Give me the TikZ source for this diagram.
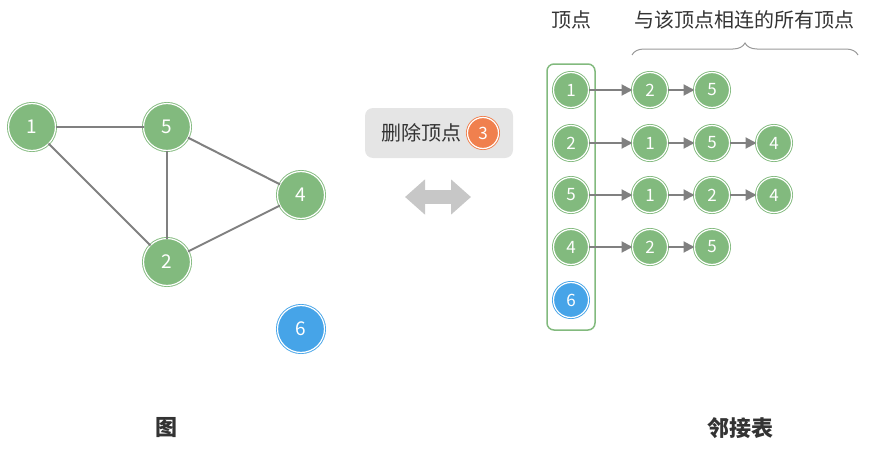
\documentclass[tikz,border=0pt]{standalone}
\usepackage{fontspec}
\setmainfont{Noto Sans CJK SC}
\usepackage{xcolor}
\usepackage{tikz}
\usetikzlibrary{arrows.meta,positioning,decorations.pathreplacing}

\definecolor{vgreen}{RGB}{130,186,126}
\definecolor{vblue}{RGB}{70,164,232}
\definecolor{vorange}{RGB}{240,128,78}
\definecolor{egray}{RGB}{128,128,128}
\definecolor{txtgray}{RGB}{51,51,51}

\begin{document}
\begin{tikzpicture}[x=1pt, y=-1pt,
    gv/.style={circle, draw=vgreen, fill=vgreen, double=white, double distance=1.2pt, line width=0.9pt,
      minimum size=47pt, inner sep=0pt, outer sep=0pt, text=white, font=\fontsize{19}{19}\selectfont},
    sv/.style={gv, minimum size=35pt, font=\fontsize{17}{17}\selectfont},
    blue/.style={draw=vblue, fill=vblue},
    edge/.style={draw=egray, line width=2pt},
    arr/.style={-{Triangle[length=11pt,width=11pt]}, draw=egray, fill=egray, line width=2pt},
    hd/.style={text=txtgray, font=\fontsize{20}{20}\selectfont},
    ttl/.style={text=txtgray, font=\fontsize{22}{22}\selectfont\bfseries}
  ]
    \useasboundingbox (0,0) rectangle (871,450);

    % graph
    \node[gv] (g1) at (32,127) {1};
    \node[gv] (g5) at (167,127) {5};
    \node[gv] (g4) at (301,195) {4};
    \node[gv] (g2) at (167,262) {2};
    \node[gv, blue] (g6) at (301,329) {6};
    \draw[edge] (g1) -- (g5);
    \draw[edge] (g1) -- (g2);
    \draw[edge] (g5) -- (g2);
    \draw[edge] (g5) -- (g4);
    \draw[edge] (g2) -- (g4);
    \node[ttl] (tg) at (166,428) {图};

    % operation
    \node[fill=black!10, rounded corners=8pt, minimum width=148pt, minimum height=50pt] (box) at (439,133) {};
    \node[hd] (del) at (421,133) {删除顶点};
    \node[sv, draw=vorange, fill=vorange, minimum size=31pt] (d3) at (483,133) {3};
    \coordinate (al) at (405,197);
    \coordinate (ar) at (471,197);
    \draw[draw=black!22, line width=14pt, {Triangle[length=20pt,width=34pt]}-{Triangle[length=20pt,width=34pt]}] (al) -- (ar);

    % adjacency list
    \node[hd] (hv) at (571,20) {顶点};
    \node[hd] (hn) at (744,20) {与该顶点相连的所有顶点};
    \coordinate (bl) at (632,55);
    \coordinate (br) at (858,55);
    \draw[decorate, decoration={brace, amplitude=12pt}, draw=black!40, line width=1pt] (bl) -- (br);
    \node[draw=vgreen, line width=1.5pt, rounded corners=7pt, minimum width=48pt, minimum height=266pt] (col) at (571,197) {};

    \node[sv] (h1) at (571,90) {1};
    \node[sv, right=44pt of h1] (a12) {2};
    \node[sv, right=27pt of a12] (a15) {5};
    \draw[arr] (h1) -- (a12);
    \draw[arr] (a12) -- (a15);

    \node[sv] (h2) at (571,143) {2};
    \node[sv, right=44pt of h2] (a21) {1};
    \node[sv, right=27pt of a21] (a25) {5};
    \node[sv, right=27pt of a25] (a24) {4};
    \draw[arr] (h2) -- (a21);
    \draw[arr] (a21) -- (a25);
    \draw[arr] (a25) -- (a24);

    \node[sv] (h5) at (571,195) {5};
    \node[sv, right=44pt of h5] (a51) {1};
    \node[sv, right=27pt of a51] (a52) {2};
    \node[sv, right=27pt of a52] (a54) {4};
    \draw[arr] (h5) -- (a51);
    \draw[arr] (a51) -- (a52);
    \draw[arr] (a52) -- (a54);

    \node[sv] (h4) at (571,247) {4};
    \node[sv, right=44pt of h4] (a42) {2};
    \node[sv, right=27pt of a42] (a45) {5};
    \draw[arr] (h4) -- (a42);
    \draw[arr] (a42) -- (a45);

    \node[sv, blue] (h6) at (571,300) {6};

    \node[ttl] (ta) at (740,428) {邻接表};
  \end{tikzpicture}
\end{document}
